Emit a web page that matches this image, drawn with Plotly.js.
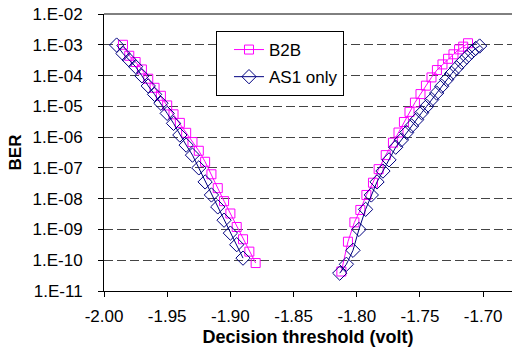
<!DOCTYPE html>
<html>
<head>
<meta charset="utf-8">
<script src="https://cdn.plot.ly/plotly-3.0.1.min.js"></script>
<style>html,body{margin:0;padding:0;background:#fff;}#chart{width:512px;height:348px;}</style>
</head>
<body>
<div id="chart"></div>
<script>
// Decision threshold (volt) and BER values
const b2bLeftX  = [-1.985,-1.980,-1.975,-1.970,-1.965,-1.960,-1.955,-1.950,-1.945,-1.940,-1.935,-1.930,-1.925,-1.920,-1.915,-1.910,-1.905,-1.900,-1.895,-1.890,-1.885,-1.880];
const b2bLeftY  = [1.0e-3,4.4e-4,2.75e-4,1.58e-4,7.9e-5,4.0e-5,2.2e-5,1.07e-5,5.5e-6,2.9e-6,1.38e-6,6.9e-7,3.6e-7,1.58e-7,6.2e-8,2.2e-8,8.3e-9,3.3e-9,1.2e-9,4.8e-10,1.9e-10,8.1e-11];
const b2bRightX = [-1.8122,-1.8070,-1.8019,-1.7972,-1.7924,-1.7872,-1.7827,-1.7771,-1.7714,-1.7670,-1.7627,-1.7583,-1.7540,-1.7496,-1.7453,-1.7409,-1.7366,-1.7322,-1.7278,-1.7235,-1.7191,-1.7158,-1.7120];
const b2bRightY = [4.3e-11,4.0e-10,1.7e-9,4.3e-9,1.32e-8,3.3e-8,9.1e-8,2.6e-7,6.6e-7,1.41e-6,3.1e-6,6.6e-6,1.32e-5,2.5e-5,4.7e-5,8.7e-5,1.51e-4,2.3e-4,3.5e-4,4.9e-4,7.1e-4,8.7e-4,1.12e-3];

const as1LeftX  = [-1.990,-1.985,-1.980,-1.975,-1.970,-1.965,-1.960,-1.955,-1.950,-1.945,-1.940,-1.935,-1.930,-1.925,-1.920,-1.915,-1.910,-1.905,-1.900,-1.895,-1.890];
const as1LeftY  = [9.8e-4,5.2e-4,3.2e-4,1.95e-4,9.8e-5,4.6e-5,2.45e-5,1.26e-5,5.9e-6,2.8e-6,1.17e-6,5.5e-7,2.6e-7,1.0e-7,3.5e-8,1.32e-8,5.4e-9,2.0e-9,7.6e-10,3.2e-10,1.17e-10];
const as1RightX = [-1.8135,-1.8082,-1.8030,-1.7983,-1.7930,-1.7885,-1.7840,-1.7793,-1.7745,-1.7692,-1.7647,-1.7605,-1.7566,-1.7526,-1.7487,-1.7447,-1.7407,-1.7368,-1.7328,-1.7289,-1.7249,-1.7210,-1.7170,-1.7130,-1.7091,-1.7059,-1.7028];
const as1RightY = [3.8e-11,7.4e-11,2.1e-10,1.0e-9,4.5e-9,1.32e-8,3.5e-8,7.9e-8,1.82e-7,4.7e-7,8.1e-7,1.41e-6,2.3e-6,3.7e-6,6.2e-6,1.0e-5,1.66e-5,2.7e-5,4.5e-5,7.4e-5,1.17e-4,1.78e-4,2.7e-4,4.0e-4,5.8e-4,7.6e-4,9.1e-4];

const seriesNames = ['B2B', 'AS1 only'];
const xTickVals = [-2.00,-1.95,-1.90,-1.85,-1.80,-1.75,-1.70];
const xTickText = ['-2.00','-1.95','-1.90','-1.85','-1.80','-1.75','-1.70'];
const yTickVals = [1e-11,1e-10,1e-9,1e-8,1e-7,1e-6,1e-5,1e-4,1e-3,1e-2];
const yTickText = ['1.E-11','1.E-10','1.E-09','1.E-08','1.E-07','1.E-06','1.E-05','1.E-04','1.E-03','1.E-02'];

const FONT = 'Arial, "Liberation Sans", sans-serif';

const traces = [
  {
    name: seriesNames[0], legendgroup: 'a',
    x: b2bLeftX.concat([null], b2bRightX),
    y: b2bLeftY.concat([null], b2bRightY),
    mode: 'lines+markers', connectgaps: false,
    line: {color: '#FF00FF', width: 1},
    marker: {symbol: 'square-open', size: 9, color: '#FF00FF', line: {width: 1, color: '#FF00FF'}}
  },
  {
    name: seriesNames[1], legendgroup: 'b',
    x: as1LeftX.concat([null], as1RightX),
    y: as1LeftY.concat([null], as1RightY),
    mode: 'lines+markers', connectgaps: false,
    line: {color: '#000080', width: 1},
    marker: {symbol: 'diamond-open', size: 11, color: '#000080', line: {width: 1, color: '#000080'}}
  }
];

const layout = {
  width: 512, height: 348,
  margin: {l: 104, r: 0, t: 14, b: 57, pad: 0},
  paper_bgcolor: '#fff', plot_bgcolor: '#fff',
  font: {family: FONT, size: 17, color: '#000'},
  showlegend: true,
  legend: {
    x: 0.2745, y: 0.9386, xanchor: 'left', yanchor: 'top',
    bgcolor: '#fff', bordercolor: '#000', borderwidth: 1,
    font: {family: FONT, size: 17, color: '#000'},
    traceorder: 'grouped', tracegroupgap: 2, entrywidth: 83, indentation: 12
  },
  xaxis: {
    range: [-2.0, -1.6772], tickvals: xTickVals, ticktext: xTickText,
    ticks: 'outside', ticklen: 5, tickcolor: '#000', tickwidth: 1,
    showline: true, linecolor: '#000', linewidth: 1,
    showgrid: false, zeroline: false, ticklabelstandoff: 5,
    tickfont: {family: FONT, size: 17},
    title: {text: '<b>Decision threshold (volt)</b>', font: {family: FONT, size: 18}, standoff: 4}
  },
  yaxis: {
    type: 'log', range: [-11, -2], tickvals: yTickVals, ticktext: yTickText,
    ticks: 'outside', ticklen: 5, tickcolor: '#000', tickwidth: 1,
    showline: true, linecolor: '#000', linewidth: 1,
    showgrid: true, gridcolor: '#444', gridwidth: 1, griddash: '9px,4px',
    zeroline: false, ticklabelstandoff: 12,
    tickfont: {family: FONT, size: 17},
    title: {text: '<b>BER</b>', font: {family: FONT, size: 17}, standoff: 6}
  },
  shapes: [
    {type: 'line', xref: 'paper', yref: 'paper', x0: 0, x1: 1, y0: 1, y1: 1, line: {color: '#000', width: 1}}
  ]
};

Plotly.newPlot('chart', traces, layout, {displayModeBar: false, staticPlot: true});
</script>
</body>
</html>
